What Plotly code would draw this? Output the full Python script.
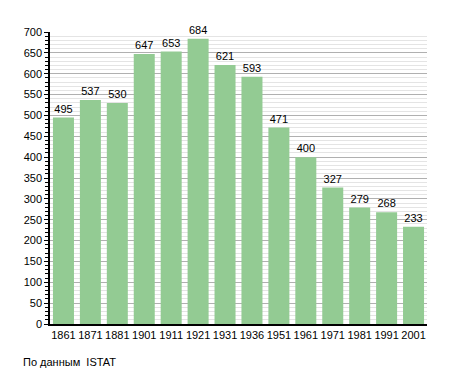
import plotly.graph_objects as go

years = ["1861", "1871", "1881", "1901", "1911", "1921", "1931", "1936", "1951", "1961", "1971", "1981", "1991", "2001"]
population = [495, 537, 530, 647, 653, 684, 621, 593, 471, 400, 327, 279, 268, 233]
y_ticks = list(range(0, 701, 50))

fig = go.Figure(go.Bar(
    x=years, y=population,
    marker=dict(color="#93CB93", line=dict(width=0)),
    text=[str(v) for v in population], textposition="outside",
    textfont=dict(family="Liberation Sans, Arial", size=11, color="#000"),
    cliponaxis=False, width=0.78,
))

fig.update_layout(
    width=447, height=365,
    margin=dict(l=42, r=28, t=24, b=49),
    paper_bgcolor="white", plot_bgcolor="white",
    font=dict(family="Liberation Sans, Arial", size=11, color="#000"),
    showlegend=False,
)
fig.update_xaxes(
    type="category", showline=True, linecolor="#000", linewidth=1.5,
    ticks="", showgrid=False, tickfont=dict(size=11),
)
fig.update_yaxes(
    range=[0, 700], tickvals=y_ticks, showline=True, linecolor="#000", linewidth=1.5,
    ticks="outside", ticklen=4, tickcolor="#000",
    showgrid=True, gridcolor="#b0b0b0", gridwidth=1,
    minor=dict(dtick=10, showgrid=True, gridcolor="#e4e4e4", gridwidth=1,
               ticks="outside", ticklen=3, tickcolor="#000"),
    zeroline=False, tickfont=dict(size=11),
)
fig.add_annotation(
    text="По данным  ISTAT", xref="paper", yref="paper", x=-0.077, y=-0.13,
    xanchor="left", yanchor="middle", showarrow=False,
    font=dict(size=11, color="#000"),
)
fig.write_html("out.html", config={"displayModeBar": False})
